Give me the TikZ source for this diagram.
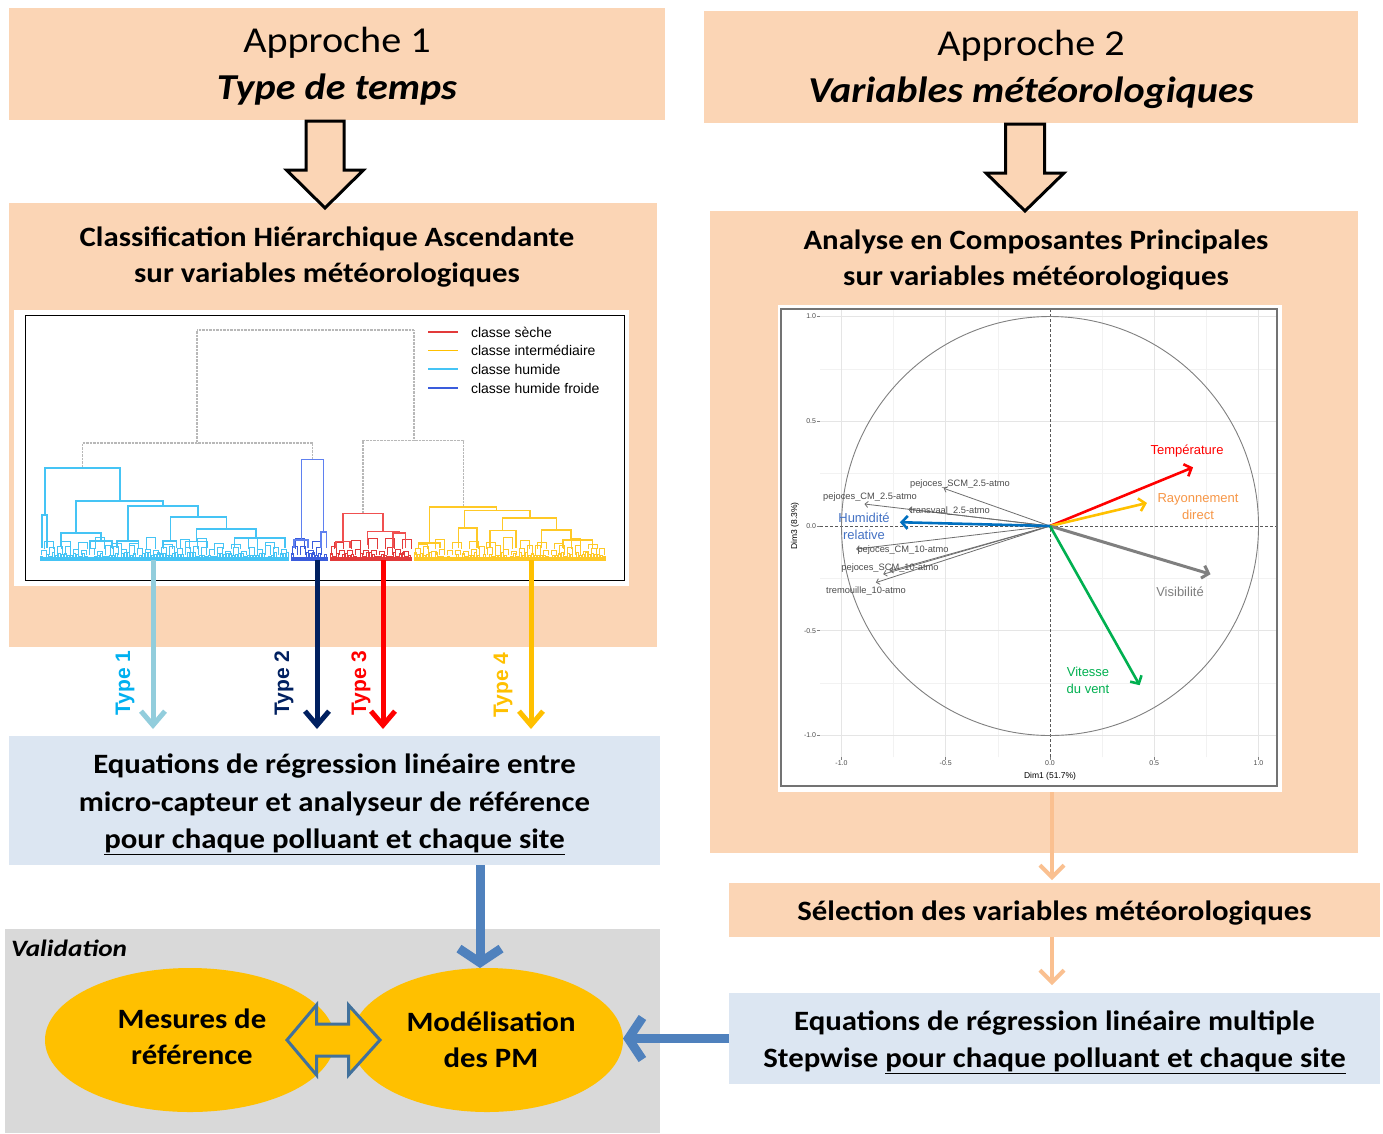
\documentclass[tikz,border=0pt]{standalone}
\usepackage{fontspec}
\setmainfont{Carlito}[FakeStretch=1.1]
\newfontfamily\valfont{Carlito}[FakeStretch=1.16]
\newfontfamily\plotfont{Liberation Sans}
\usetikzlibrary{arrows.meta,shapes.geometric,calc}

\definecolor{peach}{HTML}{FBD5B5}
\definecolor{lblue}{HTML}{DCE6F2}
\definecolor{vgray}{HTML}{D9D9D9}
\definecolor{gold}{HTML}{FFC000}
\definecolor{barrow}{HTML}{4F81BD}
\definecolor{parrow}{HTML}{FAC090}
\definecolor{tonearr}{HTML}{92CDDC}
\definecolor{tonetxt}{HTML}{00B0F0}
\definecolor{navy}{HTML}{002060}
\definecolor{dblout}{HTML}{41719C}
\definecolor{dcyan}{HTML}{45C4F5}
\definecolor{dblue}{HTML}{3A5CDC}
\definecolor{dbluelt}{HTML}{5F80F0}
\definecolor{dred}{HTML}{E23A3A}
\definecolor{dredlt}{HTML}{F05050}
\definecolor{dgold}{HTML}{FFC926}
\definecolor{ddot}{HTML}{B8B8B8}
\definecolor{pred}{HTML}{FF0000}
\definecolor{porange}{HTML}{F79646}
\definecolor{pgreen}{HTML}{00B050}
\definecolor{pblue}{HTML}{0070C0}
\definecolor{phum}{HTML}{4472C4}
\definecolor{pvis}{HTML}{7F7F7F}
\definecolor{pthin}{HTML}{6E6E6E}

% one bracket of the dendrogram: colour, x left, x right, merge height, left child top, right child top
\newcommand\dendbr[6]{\draw[#1, line width=1.3] (#2,#5) |- (#3,#4) -- (#3,#6);}
% dense lowest levels of a cluster between two abscissas
\newcommand\dendfuzz[3]{%
  \pgfmathtruncatemacro\nfz{(#2-#1-2)/3}
  \foreach \k in {0,...,\nfz}{
    \pgfmathsetmacro\xa{#1+3*\k}
    \pgfmathsetmacro\xb{\xa+2}
    \pgfmathsetmacro\ya{552+6*rnd}
    \draw[#3, line width=0.7] (\xa,560) |- (\xb,\ya) -- (\xb,560);
  }
  \pgfmathtruncatemacro\nfy{(#2-#1-6)/8}
  \foreach \k in {0,...,\nfy}{
    \pgfmathsetmacro\xa{#1+1+8*\k}
    \pgfmathsetmacro\xb{\xa+5}
    \pgfmathsetmacro\ya{545+7*rnd}
    \draw[#3, line width=0.7] (\xa,555) |- (\xb,\ya) -- (\xb,555);
  }
  \pgfmathtruncatemacro\nfw{(#2-#1-13)/17}
  \foreach \k in {0,...,\nfw}{
    \pgfmathsetmacro\xa{#1+4+17*\k}
    \pgfmathsetmacro\xb{\xa+9}
    \pgfmathsetmacro\ya{537+8*rnd}
    \draw[#3, line width=0.8] (\xa,549) |- (\xb,\ya) -- (\xb,549);
  }
  \draw[#3, line width=3.5] (#1,559) -- (#2,559);
}

\tikzset{
  pbox/.style={fill=peach, minimum width=#1},
  bbox/.style={fill=lblue, minimum width=#1},
  ttl/.style={align=center, font=\bfseries\fontsize{28}{36}\selectfont},
  hollow/.style={fill=peach, draw=black, line width=3, line join=miter},
  typearr/.style={line width=5, shorten >=7, -{Straight Barb[length=14pt,width=24pt]}},
  typelbl/.style={rotate=90, font=\plotfont\bfseries\fontsize{21}{24}\selectfont},
  bluearr/.style={draw=barrow, line width=9, -{Straight Barb[length=14pt,width=42pt]}},
  peacharr/.style={draw=parrow, line width=4, -{Straight Barb[length=12pt,width=24pt]}},
  oval/.style={ellipse, fill=gold},
  ovaltext/.style={align=center, font=\bfseries\fontsize{28}{36.5}\selectfont},
  gminor/.style={draw=black!5, line width=0.6},
  gmajor/.style={draw=black!10, line width=0.9},
  axdash/.style={draw=black!65, line width=0.8, densely dashed},
  tickc/.style={draw=black!50, line width=0.6},
  thick vec/.style={line width=2.6, -{Straight Barb[length=6pt,width=13pt]}},
  thin vec/.style={draw=pthin, line width=0.8, -{Straight Barb[length=3pt,width=6pt]}},
  plbl/.style={font=\plotfont\fontsize{13}{16.5}\selectfont, align=center},
  slbl/.style={font=\plotfont\fontsize{9.3}{11}\selectfont, text=black!70},
}

\begin{document}
\begin{tikzpicture}[x=1pt, y=-1pt, every node/.style={inner sep=0pt, outer sep=0pt}]
\useasboundingbox (0,0) rectangle (1383,1133);
\fill[white] (0,0) rectangle (1383,1133);

% ---------- approach 1 ----------
\node[pbox=656, minimum height=112] (a1) at (337,64) {};
\node[align=center, font=\fontsize{36.5}{47}\selectfont] (a1t) at (337,66.5)
  {Approche 1\\\textbf{\textit{Type de temps}}};
\node[pbox=648, minimum height=444] (cha) at (333,425) {};
\node[ttl] (chat) at (327,257) {Classification Hiérarchique Ascendante\\sur variables météorologiques};
\coordinate (h1) at (325,121);
\draw[hollow] ($(h1)+(-19,0)$) -- ++(0,49) -- ++(-19.5,0) -- ($(h1)+(0,87)$)
  -- ($(h1)+(38.5,49)$) -- ++(-19.5,0) -- ($(h1)+(19,0)$) -- cycle;

% dendrogram panel
\node[fill=white, minimum width=615, minimum height=276] (dend) at (321.5,448) {};
\pgfmathsetseed{11}
\dendfuzz{40}{289}{dcyan}
\dendfuzz{291}{328}{dblue}
\dendfuzz{330}{412}{dred}
\dendfuzz{414}{606}{dgold}
\begin{scope}[densely dotted]
  \dendbr{ddot}{197}{414}{330}{443}{440.6}
  \dendbr{ddot}{82.5}{312.7}{443}{468}{459.6}
  \dendbr{ddot}{363}{463.5}{440.6}{513.7}{507}
\end{scope}
\dendbr{dcyan}{45}{120}{468}{515}{501}
\dendbr{dcyan}{42}{47}{515}{548}{548}
\dendbr{dcyan}{76}{163}{501}{533}{506}
\dendbr{dcyan}{61}{101}{533}{546}{541}
\dendbr{dcyan}{90}{112}{541}{548}{548}
\dendbr{dcyan}{128}{198}{506}{541}{517}
\dendbr{dcyan}{117}{138.5}{541}{548}{548}
\dendbr{dcyan}{170.6}{226.6}{517}{541}{529}
\dendbr{dcyan}{163}{176.5}{541}{548}{548}
\dendbr{dcyan}{196.5}{256}{529}{541.5}{538}
\dendbr{dcyan}{185.5}{207}{541.5}{548}{548}
\dendbr{dcyan}{234.5}{285}{538}{548}{548}
\dendbr{dbluelt}{301.4}{323.7}{459.6}{540}{532}
\dendbr{dbluelt}{294}{308}{540}{548}{548}
\dendbr{dbluelt}{321}{326.5}{532}{548}{548}
\dendbr{dredlt}{343}{383}{513.7}{541.5}{531.4}
\dendbr{dredlt}{336}{350}{541.5}{548}{548}
\dendbr{dredlt}{367.6}{398.9}{531.4}{545}{533}
\dendbr{dredlt}{393}{405.5}{533}{548}{548}
\dendbr{dgold}{429.4}{496.8}{507}{543}{510.7}
\dendbr{dgold}{418.5}{440}{543}{548}{548}
\dendbr{dgold}{464.6}{530}{510.7}{528}{518}
\dendbr{dgold}{458.4}{477}{528}{548}{548}
\dendbr{dgold}{502.6}{556.7}{518}{530.7}{530}
\dendbr{dgold}{490}{516}{530.7}{548}{548}
\dendbr{dgold}{541.8}{571}{530}{548}{540}
\dendbr{dgold}{563}{592.6}{540}{548}{548}
\draw[black, line width=1] (25,315) rectangle (624,580);
% legend
\foreach \c/\t/\y in {dred/classe sèche/332, gold/classe intermédiaire/350.5,
                      dcyan/classe humide/369, dblue/classe humide froide/388}{
  \draw[\c, line width=1.6] (428,\y) -- (458,\y);
  \node[anchor=west, font=\plotfont\fontsize{14}{16}\selectfont] at (471,\y) {\t};
}

% ---------- approach 2 ----------
\node[pbox=654, minimum height=112] (a2) at (1031,67) {};
\node[align=center, font=\fontsize{36.5}{47}\selectfont] (a2t) at (1031,69.5)
  {Approche 2\\\textbf{\textit{Variables météorologiques}}};
\node[pbox=648, minimum height=642] (acp) at (1034,532) {};
\node[ttl] (acpt) at (1036,260) {Analyse en Composantes Principales\\sur variables météorologiques};
\coordinate (h2) at (1025,124);
\draw[hollow] ($(h2)+(-19.5,0)$) -- ++(0,49) -- ++(-19.5,0) -- ($(h2)+(0,87)$)
  -- ($(h2)+(39,49)$) -- ++(-19.5,0) -- ($(h2)+(19.5,0)$) -- cycle;

% correlation circle panel
\node[fill=white, minimum width=504, minimum height=487] (pca) at (1030,548.5) {};
\begin{scope}[shift={(1050,526)}, x=208.5pt, y=209.5pt]
  \foreach \g in {-0.75,-0.25,0.25,0.75}{
    \draw[gminor] (\g,-1.103) -- (\g,1.036);
    \draw[gminor] (-1.103,\g) -- (1.089,\g);
  }
  \foreach \g in {-1,-0.5,0.5,1}{
    \draw[gmajor] (\g,-1.103) -- (\g,1.036);
    \draw[gmajor] (-1.103,\g) -- (1.089,\g);
  }
  \draw[axdash] (-1.103,0) -- (1.089,0);
  \draw[axdash] (0,-1.103) -- (0,1.036);
  \draw[black!50, line width=0.9] (0,0) circle[radius=1];
  \foreach \v/\t in {1/1.0, 0.5/0.5, 0/0.0, -0.5/-0.5, -1/-1.0}{
    \draw[tickc] (-1.118,\v) -- (-1.103,\v);
    \node[anchor=east, font=\plotfont\fontsize{7}{8}\selectfont, text=black!70] at (-1.122,\v) {\t};
    \draw[tickc] (\v,-1.103) -- (\v,-1.116);
    \node[anchor=north, font=\plotfont\fontsize{7}{8}\selectfont, text=black!70] at (\v,-1.122) {\t};
  }
  \node[font=\plotfont\fontsize{8.5}{10}\selectfont] (dimx) at (0,-1.193) {Dim1 (51.7\%)};
  \node[rotate=90, font=\plotfont\fontsize{8.5}{10}\selectfont] (dimy) at (-1.223,0) {Dim3 (8.3\%)};
  \coordinate (o) at (0,0);
  \coordinate (vscm25) at (-0.51,0.18);
  \coordinate (vcm25) at (-0.89,0.105);
  \coordinate (vtr25) at (-0.68,0.08);
  \coordinate (vcm10) at (-0.93,-0.11);
  \coordinate (vscm10) at (-0.80,-0.23);
  \coordinate (vscmb) at (-0.77,-0.215);
  \coordinate (vtr10) at (-0.835,-0.27);
  \coordinate (vtemp) at (0.686,0.28);
  \coordinate (vray) at (0.465,0.11);
  \coordinate (vvis) at (0.77,-0.23);
  \coordinate (vvent) at (0.43,-0.76);
  \coordinate (vhum) at (-0.72,0.018);
\end{scope}
\foreach \v in {vscm25,vcm25,vtr25,vcm10,vscm10,vscmb,vtr10}{
  \draw[thin vec] (o) -- (\v);
}
\draw[thick vec, draw=pred] (o) -- (vtemp);
\draw[thick vec, draw=gold] (o) -- (vray);
\draw[thick vec, draw=pvis, line width=3] (o) -- (vvis);
\draw[thick vec, draw=pgreen] (o) -- (vvent);
\draw[thick vec, draw=pblue] (o) -- (vhum);
\node[slbl] (lscm25) at (960,484) {pejoces\_SCM\_2.5-atmo};
\node[slbl] (lcm25) at (870,497) {pejoces\_CM\_2.5-atmo};
\node[slbl] (ltr25) at (950,511) {transvaal\_2.5-atmo};
\node[slbl] (lcm10) at (903,550) {pejoces\_CM\_10-atmo};
\node[slbl] (lscm10) at (890,568) {pejoces\_SCM\_10-atmo};
\node[slbl] (ltr10) at (866,591) {tremouille\_10-atmo};
\node[plbl, text=pred] (ltemp) at (1187,451) {Température};
\node[plbl, text=porange] (lray) at (1198,506.5) {Rayonnement\\direct};
\node[plbl, text=pvis] (lvis) at (1180,592) {Visibilité};
\node[plbl, text=pgreen] (lvent) at (1088,680.5) {Vitesse\\du vent};
\node[plbl, text=phum] (lhum) at (864,526.5) {Humidité\\relative};
\draw[black!55, line width=1.4] (781,309) rectangle (1277,786);

% ---------- regression boxes ----------
\node[bbox=651, minimum height=129] (eq1) at (334.5,800.5) {};
\node[align=center, font=\bfseries\fontsize{28}{37.5}\selectfont] (eq1t) at (334.5,804.5)
  {Equations de régression linéaire entre\\micro-capteur et analyseur de référence\\\underline{pour chaque polluant et chaque site}};
\node[pbox=651, minimum height=54] (sel) at (1054.5,910) {};
\node[font=\bfseries\fontsize{28}{34}\selectfont] (selt) at (1054.5,913)
  {Sélection des variables météorologiques};
\node[bbox=651, minimum height=91] (eq2) at (1054.5,1038.5) {};
\node[align=center, font=\bfseries\fontsize{28}{37}\selectfont] (eq2t) at (1054.5,1042.5)
  {Equations de régression linéaire multiple\\Stepwise \underline{pour chaque polluant et chaque site}};

% type arrows out of the dendrogram
\draw[typearr, draw=tonearr] (153,560) -- (153,560 |- eq1.north);
\draw[typearr, draw=navy] (317,560) -- (317,560 |- eq1.north);
\draw[typearr, draw=pred] (383,560) -- (383,560 |- eq1.north);
\draw[typearr, draw=gold] (531,560) -- (531,560 |- eq1.north);
\node[typelbl, text=tonetxt] (ty1) at (125,683) {Type 1};
\node[typelbl, text=navy] (ty2) at (284,683) {Type 2};
\node[typelbl, text=pred] (ty3) at (361,683) {Type 3};
\node[typelbl, text=gold] (ty4) at (503,685) {Type 4};

% peach arrows of approach 2
\draw[peacharr, shorten >=3] (pca.south -| 1052,0) -- (sel.north -| 1052,0);
\draw[peacharr, shorten >=8] (sel.south -| 1052,0) -- (eq2.north -| 1052,0);

% ---------- validation ----------
\node[fill=vgray, minimum width=655, minimum height=204] (val) at (332.5,1031) {};
\node[anchor=west, font=\valfont\bfseries\itshape\fontsize{23.5}{26}\selectfont] (valt) at (11,948) {Validation};
\node[oval, minimum width=290, minimum height=144] (m1) at (190,1040) {};
\node[ovaltext] (m1t) at (192,1037) {Mesures de\\référence};
\node[oval, minimum width=272, minimum height=144] (m2) at (487,1040) {};
\node[ovaltext] (m2t) at (491,1039.5) {Modélisation\\des PM};
\coordinate (dc) at (333.5,1040);
\draw[fill=gold, draw=dblout, line width=3, line join=miter]
  ($(dc)+(-46.5,0)$) -- ($(dc)+(-17,-35)$) -- ($(dc)+(-17,-16)$) -- ($(dc)+(15,-16)$)
  -- ($(dc)+(15,-35)$) -- ($(dc)+(46.5,0)$) -- ($(dc)+(15,35)$) -- ($(dc)+(15,16)$)
  -- ($(dc)+(-17,16)$) -- ($(dc)+(-17,35)$) -- cycle;
\draw[bluearr] (eq1.south -| 480,0) -- (m2.north -| 480,0);
\draw[bluearr] (eq2.west) -- (eq2.west -| m2.east);
\end{tikzpicture}
\end{document}
